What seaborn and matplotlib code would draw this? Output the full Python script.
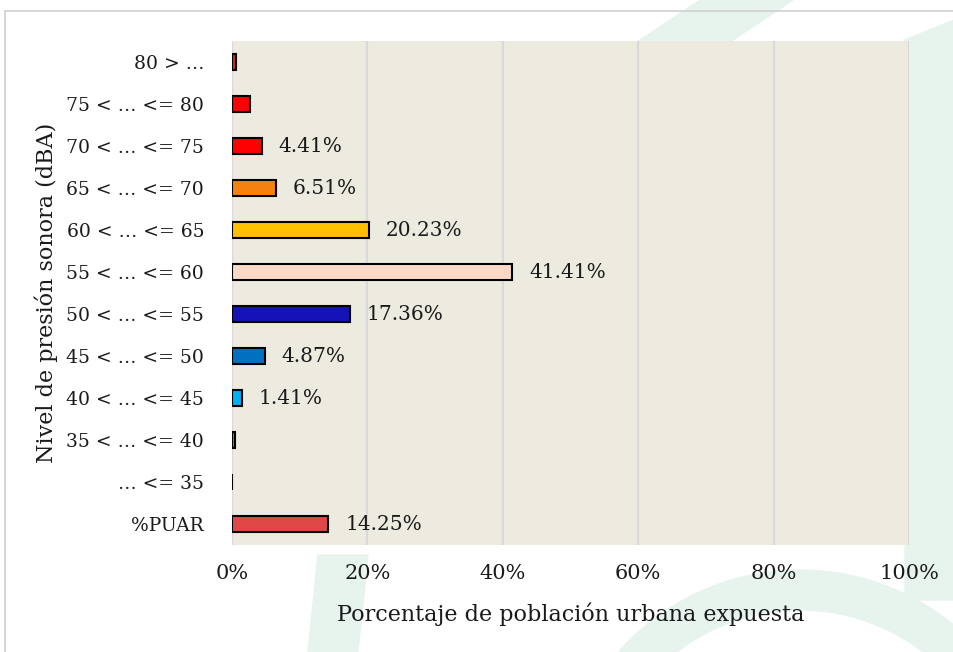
import matplotlib
matplotlib.use("Agg")
import matplotlib.pyplot as plt
import matplotlib.patches as mpatches
import seaborn as sns
import pandas as pd

# Datos del gráfico (de arriba a abajo)
niveles = ["80 > …", "75 < … <= 80", "70 < … <= 75", "65 < … <= 70",
           "60 < … <= 65", "55 < … <= 60", "50 < … <= 55", "45 < … <= 50",
           "40 < … <= 45", "35 < … <= 40", "… <= 35", "%PUAR"]
porcentajes = [0.6, 2.6, 4.41, 6.51, 20.23, 41.41, 17.36, 4.87, 1.41, 0.45, 0.05, 14.25]
etiquetas = ["", "", "4.41%", "6.51%", "20.23%", "41.41%", "17.36%", "4.87%",
             "1.41%", "", "", "14.25%"]
colores = ["#d42a1e", "#ff0000", "#ff0000", "#f5820f", "#ffc000", "#fbd9c9",
           "#1313b8", "#0070c0", "#00b0f0", "#00b0f0", "#7f7f7f", "#e04848"]
ticks_x = [0, 20, 40, 60, 80, 100]

df = pd.DataFrame({"nivel": niveles, "pct": porcentajes})

sns.set_style("white")
plt.rcParams["font.family"] = ["DejaVu Serif"]

fig = plt.figure(figsize=(9.54, 6.52), dpi=100)
W, H = 954, 652


def px(x, y):
    # píxeles de imagen -> pulgadas de la figura
    return (x / 100, (H - y) / 100)


# marca de agua verde (decorativa)
verde = "#e7f4ee"
tr = fig.dpi_scale_trans
fig.patches.append(mpatches.Polygon(
    [px(700, 0), px(793, 0), px(673, 80), px(580, 80)],
    closed=True, transform=tr, color=verde, zorder=-2))
fig.patches.append(mpatches.Wedge(
    px(800, 812), 2.42, 0, 180, width=0.4,
    transform=tr, color=verde, zorder=-2))
fig.patches.append(mpatches.Polygon(
    [px(905, 40), px(954, 20), px(954, 600), px(905, 600)],
    closed=True, transform=tr, color=verde, zorder=-2))
fig.patches.append(mpatches.Polygon(
    [px(318, 555), px(368, 555), px(358, 652), px(308, 652)],
    closed=True, transform=tr, color=verde, zorder=-2))
# marco del gráfico
fig.patches.append(mpatches.Rectangle(
    px(5, 800), 12, (800 - 11) / 100, transform=tr,
    fill=False, edgecolor="#d0d0d0", linewidth=1.2, zorder=-1))

ax = fig.add_axes([232 / W, 1 - 545 / H, (909 - 232) / W, (545 - 41) / H])
ax.set_facecolor("#edeae0")

sns.barplot(data=df, x="pct", y="nivel", hue="nivel", palette=colores,
            saturation=1, legend=False, orient="h", width=0.4,
            edgecolor="black", linewidth=1.5, ax=ax, zorder=3)

for cont, lab in zip(ax.containers, etiquetas):
    ax.bar_label(cont, labels=[lab], padding=12, fontsize=14.5, color="#1a1a1a")

ax.set_xlim(0, 100)
ax.set_xticks(ticks_x)
ax.set_xticklabels([f"{t}%" for t in ticks_x])
ax.grid(axis="x", color="#d9d9d9", linewidth=1.6, zorder=0)
ax.set_axisbelow(True)
for s in ax.spines.values():
    s.set_visible(False)
ax.tick_params(axis="both", length=0, colors="#1a1a1a")
ax.tick_params(axis="y", pad=20, labelsize=13.5)
ax.tick_params(axis="x", pad=14, labelsize=15)

ax.set_xlabel("Porcentaje de población urbana expuesta", fontsize=16, labelpad=14,
              color="#1a1a1a")
ax.set_ylabel("Nivel de presión sonora (dBA)", fontsize=16, labelpad=6,
              color="#1a1a1a")

fig.savefig("out.png", dpi=100)
